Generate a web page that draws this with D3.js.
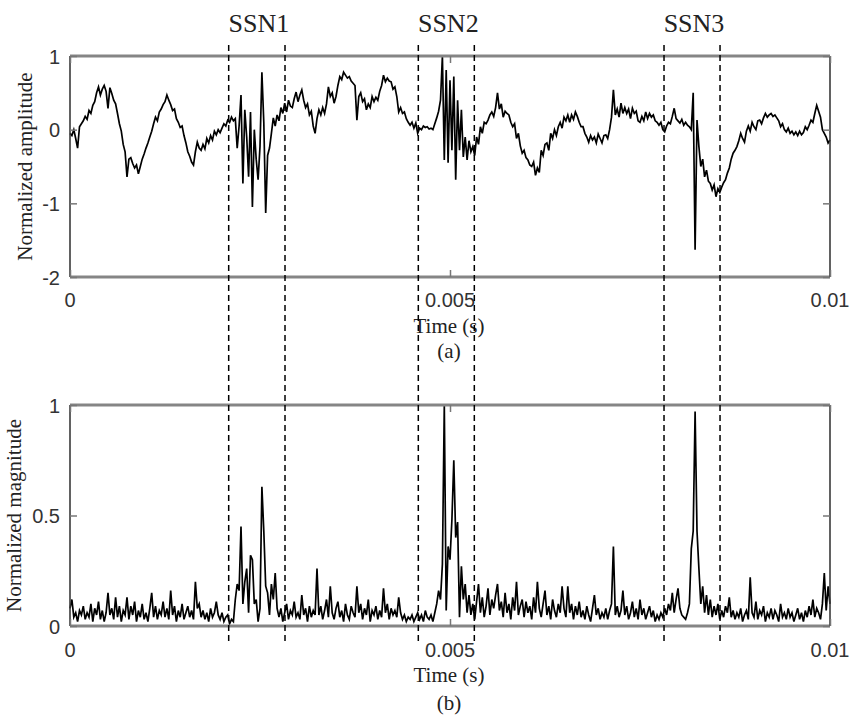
<!DOCTYPE html>
<html>
<head>
<meta charset="utf-8">
<script src="https://cdn.jsdelivr.net/npm/d3@7"></script>
<style>
  html, body { margin: 0; padding: 0; background: #fff; }
  svg { display: block; }
</style>
</head>
<body>
<svg id="chart" width="854" height="720"></svg>
<script>
// ---------- DATA ----------
const sampleStep = 0.000025;          // s, 401 samples over 0..0.01 s
const xTicks = [0, 0.005, 0.01];
const xTickLabels = ["0", "0.005", "0.01"];
const ampTicks = [-2, -1, 0, 1];
const magTicks = [0, 0.5, 1];
const magTickLabels = ["0", "0.5", "1"];
const ssnLabels = ["SSN1", "SSN2", "SSN3"];
const ssnStart = [0.002088, 0.004583, 0.007816];
const ssnEnd   = [0.002829, 0.005320, 0.008553];

// (a) normalized amplitude
const amplitude = [
 -0.05,-0.08,0.00,-0.12,-0.25,0.04,0.08,0.12,0.18,0.14,
 0.26,0.22,0.33,0.38,0.50,0.58,0.47,0.55,0.60,0.52,
 0.29,0.57,0.49,0.40,0.35,0.22,0.08,-0.02,-0.20,-0.30,
 -0.64,-0.40,-0.38,-0.46,-0.52,-0.48,-0.60,-0.50,-0.40,-0.33,
 -0.25,-0.18,-0.10,-0.02,0.08,0.17,0.12,0.24,0.28,0.34,
 0.38,0.47,0.40,0.34,0.26,0.28,0.15,0.10,0.03,0.05,
 -0.08,-0.18,-0.30,-0.36,-0.44,-0.48,-0.30,-0.17,-0.25,-0.28,
 -0.20,-0.26,-0.12,-0.18,-0.08,-0.14,-0.02,-0.07,0.00,-0.04,
 0.02,0.08,0.05,0.13,0.10,0.17,0.12,0.15,-0.25,0.05,
 0.47,-0.73,0.27,-0.10,-0.64,0.24,-1.05,0.00,-0.40,-0.68,
 -0.23,0.78,0.10,-1.13,-0.35,-0.25,-0.05,0.16,0.05,0.20,
 0.12,0.30,0.22,0.36,0.24,0.40,0.32,0.30,0.42,0.51,
 0.38,0.47,0.54,0.40,0.30,0.35,0.20,0.25,0.05,-0.05,
 0.15,0.27,0.20,0.30,0.22,0.35,0.58,0.45,0.50,0.36,
 0.45,0.60,0.72,0.68,0.78,0.74,0.70,0.72,0.66,0.63,
 0.60,0.13,0.45,0.50,0.38,0.42,0.27,0.35,0.30,0.45,
 0.38,0.44,0.40,0.52,0.60,0.74,0.65,0.70,0.66,0.65,
 0.55,0.58,0.45,0.24,0.30,0.22,0.24,0.15,0.10,0.06,
 0.10,0.02,0.09,-0.05,0.02,0.00,0.05,0.03,0.04,0.01,
 0.02,0.00,0.08,0.16,0.25,0.40,1.00,-0.41,0.81,-0.45,
 0.67,-0.28,0.72,-0.68,0.40,-0.28,0.27,-0.37,-0.10,-0.41,
 -0.15,-0.30,-0.23,-0.35,-0.10,-0.20,0.04,-0.05,0.10,0.08,
 0.13,0.20,0.24,0.18,0.30,0.50,0.28,0.35,0.17,0.25,
 0.22,0.20,0.10,0.04,0.08,-0.12,-0.05,-0.22,-0.32,-0.28,
 -0.38,-0.41,-0.48,-0.50,-0.44,-0.62,-0.52,-0.58,-0.28,-0.35,
 -0.20,-0.18,-0.28,-0.05,-0.12,0.00,-0.08,0.04,0.10,0.02,
 0.17,0.12,0.20,0.10,0.20,0.14,0.24,0.18,0.10,0.04,
 0.04,-0.05,-0.10,-0.17,-0.08,-0.14,-0.10,-0.18,-0.06,-0.12,
 -0.18,-0.08,-0.07,-0.12,0.00,0.17,0.54,0.20,0.28,0.17,
 0.36,0.22,0.30,0.22,0.28,0.15,0.29,0.22,0.25,0.12,
 0.10,0.18,0.12,0.24,0.15,0.22,0.17,0.20,0.12,0.10,
 0.06,0.10,0.00,-0.03,0.05,0.10,0.08,0.18,0.29,0.15,
 0.12,0.09,0.14,0.06,0.10,0.06,0.04,0.00,0.50,-1.63,
 0.13,-0.23,-0.50,-0.40,-0.64,-0.55,-0.70,-0.73,-0.82,-0.75,
 -0.91,-0.80,-0.85,-0.78,-0.72,-0.68,-0.59,-0.52,-0.40,-0.32,
 -0.28,-0.23,-0.15,-0.05,-0.12,-0.17,-0.02,0.05,-0.02,0.10,
 0.04,0.00,0.12,0.13,0.08,0.16,0.22,0.17,0.20,0.22,
 0.18,0.20,0.16,0.12,0.04,0.08,0.00,-0.03,0.02,-0.05,
 -0.02,-0.07,-0.03,-0.08,-0.02,-0.07,-0.04,0.04,0.00,0.06,
 0.13,0.10,0.22,0.33,0.25,0.17,0.00,-0.05,-0.10,-0.18,
 -0.14
];

// (b) normalized magnitude
const magnitude = [
 0.08,0.12,0.04,0.06,0.02,0.07,0.05,0.09,0.03,0.06,
 0.04,0.10,0.02,0.08,0.05,0.11,0.03,0.07,0.02,0.06,
 0.15,0.05,0.08,0.03,0.13,0.04,0.09,0.02,0.07,0.05,
 0.13,0.03,0.09,0.05,0.11,0.02,0.07,0.04,0.10,0.03,
 0.06,0.02,0.08,0.15,0.04,0.09,0.03,0.07,0.05,0.11,
 0.04,0.08,0.03,0.16,0.05,0.09,0.02,0.07,0.04,0.10,
 0.03,0.06,0.09,0.04,0.07,0.03,0.20,0.08,0.10,0.04,
 0.07,0.03,0.06,0.02,0.08,0.04,0.06,0.11,0.05,0.03,
 0.06,0.02,0.04,0.05,0.01,0.03,0.02,0.12,0.19,0.16,
 0.45,0.10,0.20,0.26,0.06,0.32,0.30,0.10,0.12,0.02,
 0.08,0.63,0.43,0.18,0.15,0.05,0.19,0.12,0.24,0.08,
 0.04,0.08,0.02,0.06,0.10,0.03,0.07,0.05,0.11,0.04,
 0.06,0.03,0.14,0.05,0.08,0.02,0.09,0.04,0.07,0.05,
 0.26,0.05,0.09,0.03,0.07,0.12,0.04,0.18,0.06,0.03,
 0.08,0.11,0.04,0.07,0.02,0.10,0.05,0.03,0.09,0.06,
 0.04,0.18,0.06,0.10,0.03,0.08,0.05,0.12,0.02,0.07,
 0.05,0.09,0.03,0.07,0.04,0.17,0.06,0.10,0.03,0.08,
 0.05,0.07,0.04,0.13,0.06,0.03,0.05,0.02,0.04,0.03,
 0.05,0.02,0.04,0.06,0.03,0.05,0.02,0.07,0.04,0.03,
 0.05,0.02,0.06,0.10,0.16,0.12,0.28,1.00,0.07,0.36,
 0.30,0.48,0.75,0.40,0.47,0.04,0.27,0.12,0.19,0.06,
 0.14,0.05,0.10,0.03,0.11,0.19,0.06,0.13,0.04,0.09,
 0.17,0.05,0.12,0.08,0.14,0.19,0.07,0.11,0.04,0.15,
 0.06,0.10,0.03,0.13,0.07,0.20,0.05,0.09,0.12,0.04,
 0.11,0.06,0.09,0.03,0.13,0.06,0.20,0.08,0.04,0.10,
 0.16,0.05,0.09,0.03,0.12,0.07,0.04,0.10,0.06,0.18,
 0.08,0.04,0.18,0.06,0.10,0.03,0.09,0.05,0.11,0.04,
 0.07,0.03,0.09,0.05,0.02,0.08,0.14,0.05,0.08,0.03,
 0.06,0.04,0.08,0.03,0.07,0.10,0.36,0.05,0.09,0.04,
 0.07,0.16,0.05,0.09,0.03,0.06,0.11,0.04,0.08,0.03,
 0.12,0.05,0.08,0.03,0.06,0.09,0.04,0.07,0.02,0.05,
 0.03,0.06,0.04,0.08,0.05,0.10,0.07,0.15,0.06,0.12,
 0.17,0.08,0.05,0.04,0.03,0.06,0.10,0.35,0.43,0.97,
 0.43,0.26,0.10,0.18,0.06,0.14,0.05,0.12,0.04,0.09,
 0.05,0.10,0.03,0.07,0.04,0.09,0.06,0.13,0.04,0.07,
 0.03,0.06,0.04,0.08,0.02,0.05,0.07,0.03,0.22,0.06,
 0.04,0.11,0.03,0.07,0.05,0.09,0.02,0.06,0.04,0.08,
 0.03,0.07,0.05,0.02,0.10,0.04,0.06,0.03,0.08,0.04,
 0.06,0.02,0.05,0.08,0.03,0.06,0.02,0.07,0.04,0.09,
 0.05,0.12,0.04,0.08,0.06,0.03,0.10,0.24,0.07,0.18,
 0.10
];

// ---------- DRAW ----------
const svg = d3.select("#chart");
const serif = "'Liberation Serif', 'Times New Roman', serif";
const sans = "'Liberation Sans', Arial, sans-serif";

const x = d3.scaleLinear().domain([0, 0.01]).range([70, 830]);
const yA = d3.scaleLinear().domain([-2, 1]).range([277, 56]);
const yB = d3.scaleLinear().domain([0, 1]).range([626, 405]);

function panel(yScale, yTicks, yLabels, values, yTitle, titleX, sub, tickBase, titleBase, subBase) {
  const g = svg.append("g");
  const [y0, y1] = yScale.range();   // bottom, top
  // data line
  const line = d3.line()
    .x((d, i) => x(i * sampleStep))
    .y(d => yScale(d));
  g.append("path")
    .datum(values)
    .attr("fill", "none")
    .attr("stroke", "#000")
    .attr("stroke-width", 1.7)
    .attr("stroke-linejoin", "miter")
    .attr("d", line);

  // frame
  g.append("line").attr("x1", 70).attr("x2", 830).attr("y1", y1).attr("y2", y1)
    .attr("stroke", "#858585").attr("stroke-width", 3);
  g.append("line").attr("x1", 70).attr("x2", 830).attr("y1", y0).attr("y2", y0)
    .attr("stroke", "#858585").attr("stroke-width", 3);
  g.append("line").attr("x1", 70).attr("x2", 70).attr("y1", y1).attr("y2", y0)
    .attr("stroke", "#3a3a3a").attr("stroke-width", 1.6);
  g.append("line").attr("x1", 830).attr("x2", 830).attr("y1", y1).attr("y2", y0)
    .attr("stroke", "#3a3a3a").attr("stroke-width", 1.6);

  // y axes (inward ticks)
  const left = d3.axisLeft(yScale).tickValues(yTicks).tickSizeInner(-7).tickSizeOuter(0)
    .tickPadding(14).tickFormat((d, i) => yLabels[i]);
  const gl = g.append("g").attr("transform", "translate(70,0)").call(left);
  const right = d3.axisRight(yScale).tickValues(yTicks).tickSizeInner(-7).tickSizeOuter(0)
    .tickFormat("");
  const gr = g.append("g").attr("transform", "translate(830,0)").call(right);
  // x axes (inward ticks)
  const bottom = d3.axisBottom(x).tickValues(xTicks).tickSizeInner(-7).tickSizeOuter(0)
    .tickFormat("");
  const gb = g.append("g").attr("transform", `translate(0,${y0})`).call(bottom);
  const top = d3.axisTop(x).tickValues(xTicks).tickSizeInner(-7).tickSizeOuter(0)
    .tickFormat("");
  const gt = g.append("g").attr("transform", `translate(0,${y1})`).call(top);
  [gl, gr, gb, gt].forEach(a => {
    a.select(".domain").remove();
    a.selectAll(".tick line").attr("stroke", "#777").attr("stroke-width", 1.5);
  });
  gl.selectAll(".tick text")
    .attr("font-family", sans).attr("font-size", 20).attr("fill", "#333")
    .attr("x", -10).attr("dy", "0.36em");

  // x tick labels
  g.selectAll("text.xt").data(xTicks).enter().append("text")
    .attr("class", "xt")
    .attr("x", d => x(d)).attr("y", tickBase)
    .attr("text-anchor", "middle")
    .attr("font-family", sans).attr("font-size", 20).attr("fill", "#333")
    .text((d, i) => xTickLabels[i]);

  // titles
  g.append("text")
    .attr("transform", `translate(${titleX},${(y0 + y1) / 2}) rotate(-90)`)
    .attr("text-anchor", "middle")
    .attr("font-family", serif).attr("font-size", 21).attr("fill", "#222")
    .text(yTitle);
  g.append("text")
    .attr("x", 449).attr("y", titleBase)
    .attr("text-anchor", "middle")
    .attr("font-family", serif).attr("font-size", 21).attr("fill", "#222")
    .text("Time (s)");
  g.append("text")
    .attr("x", 449).attr("y", subBase)
    .attr("text-anchor", "middle")
    .attr("font-family", serif).attr("font-size", 21).attr("fill", "#222")
    .text(sub);
}

panel(yA, ampTicks, ampTicks.map(String), amplitude, "Normalized amplitude", 32, "(a)", 307, 333, 358);
panel(yB, magTicks, magTickLabels, magnitude, "Normalized magnitude", 21, "(b)", 657, 682, 710);

// dashed SSN boundaries
const bounds = ssnStart.concat(ssnEnd);
svg.selectAll("line.ssn").data(bounds).enter().append("line")
  .attr("class", "ssn")
  .attr("x1", d => x(d)).attr("x2", d => x(d))
  .attr("y1", 45).attr("y2", 643)
  .attr("stroke", "#000").attr("stroke-width", 1.5)
  .attr("stroke-dasharray", "6,4");

// SSN labels
svg.selectAll("text.ssnl").data(ssnLabels).enter().append("text")
  .attr("class", "ssnl")
  .attr("x", (d, i) => (x(ssnStart[i]) + x(ssnEnd[i])) / 2 + 2)
  .attr("y", 32)
  .attr("text-anchor", "middle")
  .attr("font-family", serif).attr("font-size", 26).attr("fill", "#222")
  .text(d => d);
</script>
</body>
</html>
